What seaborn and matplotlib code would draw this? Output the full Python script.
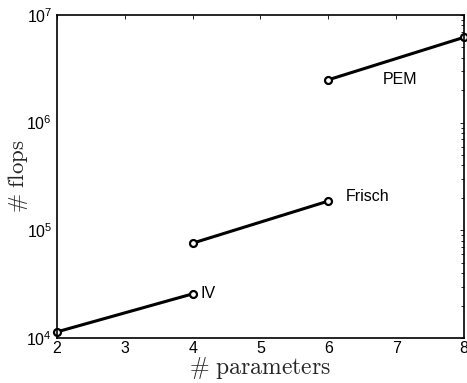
import matplotlib
matplotlib.use("Agg")
import matplotlib.pyplot as plt
import seaborn as sns
import pandas as pd

methods = ["IV", "IV", "Frisch", "Frisch", "PEM", "PEM"]
params = [2, 4, 4, 6, 6, 8]
flops = [1.14e4, 2.57e4, 7.6e4, 1.87e5, 2.5e6, 6.2e6]

df = pd.DataFrame({"method": methods, "params": params, "flops": flops})

sns.set_theme(style="white")
plt.rcParams['font.family'] = ['Liberation Sans', 'DejaVu Sans']
plt.rcParams['mathtext.fontset'] = 'cm'

fig = plt.figure(figsize=(4.67, 3.83), dpi=100)
ax = fig.add_axes([0.122, 0.1175, 0.8716, 0.8434])

for m in ["IV", "Frisch", "PEM"]:
    sub = df[df["method"] == m]
    sns.lineplot(data=sub, x="params", y="flops", ax=ax, color="black",
                 linewidth=2.2, marker="o", markersize=5, markerfacecolor="white",
                 markeredgecolor="black", markeredgewidth=1.6, clip_on=False)

ax.set_yscale("log")
ax.set_xlim(2, 8)
ax.set_ylim(1e4, 1e7)
ax.set_xticks([2, 3, 4, 5, 6, 7, 8])

label_pos = {"IV": (4.12, 2.6e4), "Frisch": (6.25, 2.05e5), "PEM": (6.8, 2.5e6)}
for m, (lx, ly) in label_pos.items():
    ax.text(lx, ly, m, fontsize=11.5, color="black", va="center", ha="left")

ax.set_xlabel(r"$\#\ \mathrm{parameters}$", fontsize=17)
ax.set_ylabel(r"$\#\ \mathrm{flops}$", fontsize=16.5)
ax.xaxis.set_label_coords(0.5, -0.052, transform=ax.transAxes)
ax.xaxis.label.set_va("top")
ax.yaxis.set_label_coords(-0.095, 0.5, transform=ax.transAxes)
ax.yaxis.label.set_va("center")

ax.tick_params(axis="both", which="both", direction="in", top=True, right=True,
               labelsize=11.5, colors="black", length=3, width=0.6)
ax.tick_params(axis="y", which="minor", length=2)
ax.tick_params(axis="x", pad=2)
for s in ax.spines.values():
    s.set_color("black")
    s.set_linewidth(1.2)

fig.savefig("out.png", dpi=100)
